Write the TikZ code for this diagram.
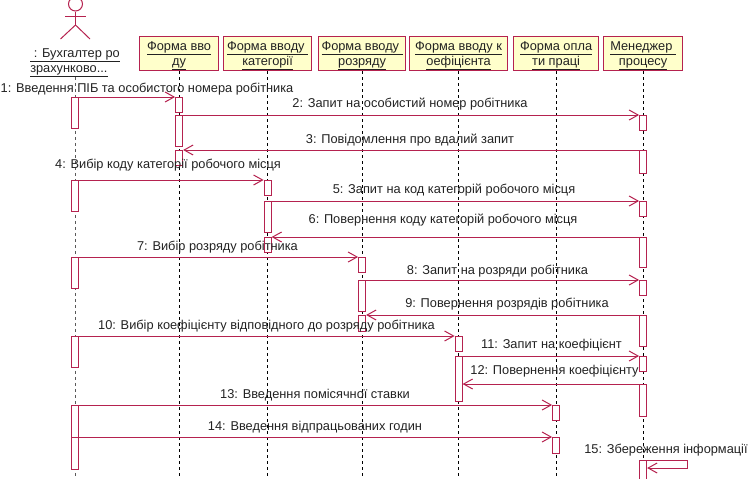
\documentclass[tikz,border=0pt]{standalone}
\usepackage{fontspec}
\setmainfont{Liberation Sans}
\usetikzlibrary{arrows.meta}
\definecolor{umlline}{HTML}{B5224F}
\definecolor{umlfill}{HTML}{FFFFCB}
\definecolor{umltext}{HTML}{222222}
\newcommand{\headstrut}{\rule{0pt}{13.5pt}}
\tikzset{
  header/.style={draw=umlline,line width=1.2pt,fill=umlfill,inner sep=0pt,anchor=north west,align=center,text=umltext,font=\fontsize{12.8}{15}\selectfont},
  lifeline/.style={black,line width=0.8pt,dash pattern=on 3pt off 3pt},
  activation/.style={draw=umlline,line width=1pt,fill=white,inner sep=0pt,minimum width=7pt,anchor=north},
  message/.style={umlline,line width=1pt,-{Straight Barb[length=9pt,width=10pt]}},
  msgtext/.style={text=umltext,inner sep=0pt,yshift=-1pt,font=\fontsize{12.8}{14}\selectfont},
}
\begin{document}
\begin{tikzpicture}[x=1pt,y=-1pt]
\clip (0,0) rectangle (752,479);

%headers
\node[header,minimum width=79pt,minimum height=34pt] (form1) at (139,36) {\headstrut\underline{Форма вво}\\\underline{ду}};
\node[header,minimum width=88pt,minimum height=34pt] (form2) at (223,36) {\headstrut\underline{Форма вводу }\\\underline{категорії}};
\node[header,minimum width=87pt,minimum height=34pt] (form3) at (318,36) {\headstrut\underline{Форма вводу }\\\underline{розряду}};
\node[header,minimum width=98pt,minimum height=34pt] (form4) at (409,36) {\headstrut\underline{Форма вводу к}\\\underline{оефіцієнта}};
\node[header,minimum width=85pt,minimum height=34pt] (form5) at (513,36) {\headstrut\underline{Форма опла}\\\underline{ти праці}};
\node[header,minimum width=79pt,minimum height=34pt] (manager) at (603,36) {\headstrut\underline{Менеджер }\\\underline{процесу}};

%actor
\node[draw=umlline,line width=1pt,circle,minimum size=14pt,inner sep=0pt] (head) at (75.5,4) {};
\coordinate (hip) at (75.5,25);
\coordinate (armL) at (65,16);
\coordinate (armR) at (85.5,16);
\coordinate (legL) at (60.5,39);
\coordinate (legR) at (90,39);
\draw[umlline,line width=1pt] (head) -- (hip);
\draw[umlline,line width=1pt] (armL) -- (armR);
\draw[umlline,line width=1pt] (legL) -- (hip) -- (legR);
\node[inner sep=0pt,align=left,text=umltext,font=\fontsize{12.8}{15}\selectfont] (actor) at (75,62.5) {\underline{\ : Бухгалтер ро}\\\underline{зрахунково...}};

%lifelines
\coordinate (bottom) at (0,479);
\draw[lifeline,black!65] (actor) -- (actor |- bottom);
\draw[lifeline] (form1) -- (form1 |- bottom);
\draw[lifeline] (form2) -- (form2 |- bottom);
\draw[lifeline] (form3) -- (form3 |- bottom);
\draw[lifeline] (form4) -- (form4 |- bottom);
\draw[lifeline] (form5) -- (form5 |- bottom);
\draw[lifeline] (manager) -- (manager |- bottom);

%actor activations
\node[activation,minimum height=31pt] (act1) at (actor |- 0,97) {};
\node[activation,minimum height=31pt] (act2) at (actor |- 0,180) {};
\node[activation,minimum height=31pt] (act3) at (actor |- 0,257) {};
\node[activation,minimum height=31pt] (act4) at (actor |- 0,336) {};
\node[activation,minimum height=64pt] (act5) at (actor |- 0,405) {};

%form activations
\node[activation,minimum height=15pt] (fa1) at (form1 |- 0,97) {};
\node[activation,minimum height=31pt] (fa2) at (form1 |- 0,115) {};
\node[activation,minimum height=15pt] (fa3) at (form1 |- 0,150) {};
\node[activation,minimum height=15pt] (fb1) at (form2 |- 0,180) {};
\node[activation,minimum height=31pt] (fb2) at (form2 |- 0,201) {};
\node[activation,minimum height=15pt] (fb3) at (form2 |- 0,237) {};
\node[activation,minimum height=15pt] (fc1) at (form3 |- 0,257) {};
\node[activation,minimum height=31pt] (fc2) at (form3 |- 0,280) {};
\node[activation,minimum height=16pt] (fc3) at (form3 |- 0,315) {};
\node[activation,minimum height=15pt] (fd1) at (form4 |- 0,336) {};
\node[activation,minimum height=45pt] (fd2) at (form4 |- 0,356) {};
\node[activation,minimum height=15pt] (fe1) at (form5 |- 0,405) {};
\node[activation,minimum height=16pt] (fe2) at (form5 |- 0,437) {};

%manager activations
\node[activation,minimum height=15pt] (man1) at (manager |- 0,115) {};
\node[activation,minimum height=23pt] (man2) at (manager |- 0,150) {};
\node[activation,minimum height=15pt] (man3) at (manager |- 0,201) {};
\node[activation,minimum height=30pt] (man4) at (manager |- 0,237) {};
\node[activation,minimum height=15pt] (man5) at (manager |- 0,280) {};
\node[activation,minimum height=31pt] (man6) at (manager |- 0,315) {};
\node[activation,minimum height=15pt] (man7) at (manager |- 0,356) {};
\node[activation,minimum height=32pt] (man8) at (manager |- 0,384) {};
\node[activation,minimum height=30pt] (man9) at (manager |- 0,460) {};

%messages
\draw[message] (act1.north east) -- (fa1.north west);
\draw[message] (fa2.north east) -- (man1.north west);
\draw[message] (man2.north west) -- (fa3.north east);
\draw[message] (act2.north east) -- (fb1.north west);
\draw[message] (fb2.north east) -- (man3.north west);
\draw[message] (man4.north west) -- (fb3.north east);
\draw[message] (act3.north east) -- (fc1.north west);
\draw[message] (fc2.north east) -- (man5.north west);
\draw[message] (man6.north west) -- (fc3.north east);
\draw[message] (act4.north east) -- (fd1.north west);
\draw[message] (fd2.north east) -- (man7.north west);
\draw[message] (man8.north west) -- (man8.north west -| fd2.east);
\draw[message] (act5.north east) -- (fe1.north west);
\draw[message] (fe2.north west -| act5.west) -- (fe2.north west);

%self message
\coordinate (turnA) at (687,460);
\coordinate (turnB) at (687,468);
\draw[message] (man9.east |- turnA) -- (turnA) -- (turnB) -- (man9.east |- turnB);

%message labels
\node[msgtext] (text1) at (147,88) {1: Введення ПІБ та особистого номера робітника};
\node[msgtext] (text2) at (410,103) {2: Запит на особистий номер робітника};
\node[msgtext] (text3) at (410,139) {3: Повідомлення про вдалий запит};
\node[msgtext] (text4) at (168,164) {4: Вибір коду категорії робочого місця};
\node[msgtext] (text5) at (454,189) {5: Запит на код категорій робочого місця};
\node[msgtext] (text6) at (443,219) {6: Повернення коду категорій робочого місця};
\node[msgtext] (text7) at (217.5,246) {7: Вибір розряду робітника};
\node[msgtext] (text8) at (497.5,270) {8: Запит на розряди робітника};
\node[msgtext] (text9) at (507,303) {9: Повернення розрядів робітника};
\node[msgtext] (text10) at (266.5,325) {10: Вибір коефіцієнту відповідного до розряду робітника};
\node[msgtext] (text11) at (551.5,344) {11: Запит на коефіцієнт};
\node[msgtext] (text12) at (554.5,370) {12: Повернення коефіцієнту};
\node[msgtext] (text13) at (315,394) {13: Введення помісячної ставки};
\node[msgtext] (text14) at (315,426) {14: Введення відпрацьованих годин};
\node[msgtext] (text15) at (666,449) {15: Збереження інформації};

\end{tikzpicture}
\end{document}
